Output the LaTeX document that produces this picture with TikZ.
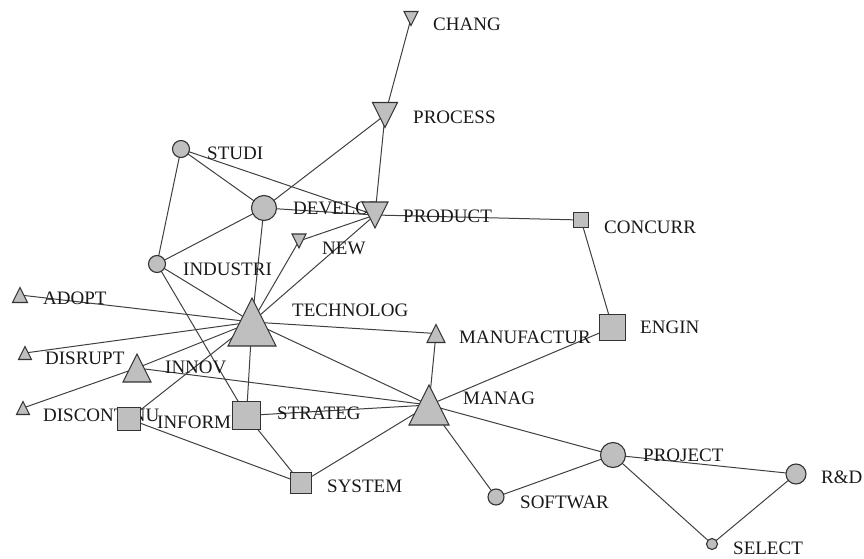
\documentclass[tikz,border=0pt]{standalone}
\usepackage{fontspec}
\setmainfont{Liberation Serif}
\newcommand\utri[2]{\path[shp,shift={(#1)}] (-#2/2,#2/2) -- (#2/2,#2/2) -- (0,-#2/2) -- cycle;}
\newcommand\dtri[2]{\path[shp,shift={(#1)}] (-#2/2,-#2/2) -- (#2/2,-#2/2) -- (0,#2/2) -- cycle;}
\newcommand\nsq[2]{\path[shp,shift={(#1)}] (-#2/2,-#2/2) rectangle (#2/2,#2/2);}
\newcommand\ncirc[2]{\path[shp] (#1) circle[radius=#2pt];}
\begin{document}
\begin{tikzpicture}[x=1pt,y=-1pt,
  edge/.style={draw=black!75, line width=1pt},
  shp/.style={fill=black!25, draw=black!80, line width=1.1pt},
  lbl/.style={anchor=base west, inner sep=0pt, font=\fontsize{19}{22}\selectfont, text=black!90}]
\useasboundingbox (0,0) rectangle (864,559);
% vertex positions
\coordinate (chang) at (411,18.5);
\coordinate (process) at (385,115);
\coordinate (studi) at (181,149);
\coordinate (develop) at (264,208);
\coordinate (product) at (375,215);
\coordinate (new) at (299,241);
\coordinate (concurr) at (581,220);
\coordinate (industri) at (157,264);
\coordinate (adopt) at (20,295);
\coordinate (technolog) at (252,322);
\coordinate (manufactur) at (436,333.5);
\coordinate (engin) at (612.5,327.5);
\coordinate (disrupt) at (25,353);
\coordinate (innov) at (137,368);
\coordinate (manag) at (429,405);
\coordinate (discontinu) at (23,408);
\coordinate (inform) at (129,419);
\coordinate (strateg) at (246.5,415.5);
\coordinate (system) at (301,483);
\coordinate (softwar) at (496,497);
\coordinate (project) at (613,455);
\coordinate (rd) at (796,474);
\coordinate (select) at (712,544);
% edges
\foreach \a/\b in {chang/process, process/product, process/develop, studi/develop,
  studi/product, studi/industri, develop/product, develop/industri, develop/technolog,
  product/concurr, new/product, technolog/new, technolog/product, industri/technolog,
  industri/strateg, adopt/technolog, disrupt/technolog, discontinu/innov, innov/technolog,
  innov/manag, inform/technolog, inform/system, technolog/strateg, technolog/manufactur,
  technolog/manag, strateg/manag, strateg/system, system/manag, manag/manufactur,
  manag/engin, manag/project, manag/softwar, softwar/project, project/rd,
  project/select, select/rd, engin/concurr}
  \draw[edge] (\a) -- (\b);
% labels
\node[lbl] (l-chang) at (433,30.5) {CHANG};
\node[lbl] (l-process) at (413,123.5) {PROCESS};
\node[lbl] (l-studi) at (207,159.5) {STUDI};
\node[lbl] (l-develop) at (293,214.5) {DEVELOP};
\node[lbl] (l-product) at (403,222.5) {PRODUCT};
\node[lbl] (l-new) at (322,254) {NEW};
\node[lbl] (l-concurr) at (604,233.5) {CONCURR};
\node[lbl] (l-industri) at (183,275) {INDUSTRI};
\node[lbl] (l-adopt) at (43,304.5) {ADOPT};
\node[lbl] (l-technolog) at (292,316.5) {TECHNOLOG};
\node[lbl] (l-manufactur) at (459,343.5) {MANUFACTUR};
\node[lbl] (l-engin) at (640,333.5) {ENGIN};
\node[lbl] (l-disrupt) at (45,364.5) {DISRUPT};
\node[lbl] (l-innov) at (165,373.5) {INNOV};
\node[lbl] (l-manag) at (463,404.5) {MANAG};
\node[lbl] (l-discontinu) at (43,421.5) {DISCONTINU};
\node[lbl] (l-inform) at (157,428.5) {INFORM};
\node[lbl] (l-strateg) at (277,419.5) {STRATEG};
\node[lbl] (l-system) at (327,492.5) {SYSTEM};
\node[lbl] (l-softwar) at (520,508.5) {SOFTWAR};
\node[lbl] (l-project) at (643,461.5) {PROJECT};
\node[lbl] (l-rd) at (821,483.5) {R\&D};
\node[lbl] (l-select) at (733,554.5) {SELECT};
% vertex shapes
\dtri{chang}{14}
\dtri{process}{25}
\ncirc{studi}{8.5}
\ncirc{develop}{12.5}
\dtri{product}{26}
\dtri{new}{14}
\nsq{concurr}{15}
\ncirc{industri}{8.5}
\utri{adopt}{15}
\utri{technolog}{48}
\utri{manufactur}{18}
\nsq{engin}{26}
\utri{disrupt}{13}
\utri{innov}{28}
\utri{manag}{40}
\utri{discontinu}{13}
\nsq{inform}{23}
\nsq{strateg}{28}
\nsq{system}{21}
\ncirc{softwar}{8}
\ncirc{project}{12.5}
\ncirc{rd}{10}
\ncirc{select}{5.5}
\end{tikzpicture}
\end{document}
